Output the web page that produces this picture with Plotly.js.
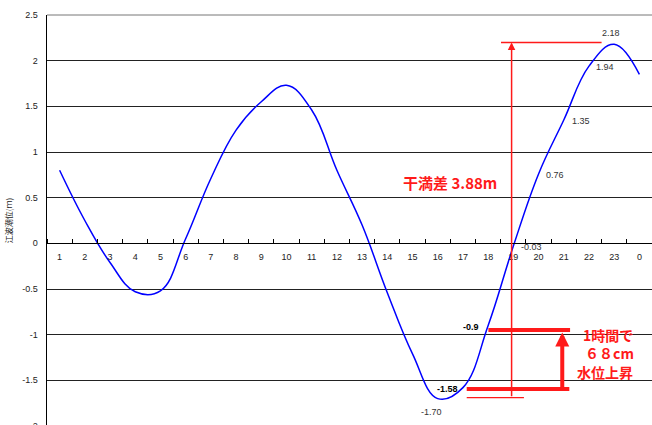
<!DOCTYPE html>
<html>
<head>
<meta charset="utf-8">
<script src="https://cdn.plot.ly/plotly-3.0.1.min.js"></script>
<style>
html, body { margin:0; padding:0; overflow:hidden; background:#fff; }
#chart { width:652px; height:445px; }
</style>
</head>
<body>
<div id="chart"></div>
<script>
// hour-of-day labels (category axis) and tide level (m)
const hourLabels = ["1","2","3","4","5","6","7","8","9","10","11","12","13","14","15","16","17","18","19","20","21","22","23","0"];
const tideLevel  = [0.80, 0.25, -0.21, -0.53, -0.52, 0.05, 0.71, 1.24, 1.55, 1.73, 1.46, 0.80,
                    0.20, -0.54, -1.21, -1.70, -1.58, -0.90, -0.03, 0.76, 1.35, 1.94, 2.18, 1.85];
// indices of the labelled points and their label texts
const labelIdx   = [15, 16, 17, 18, 19, 20, 21, 22];
const labelText  = ["-1.70", "<b>-1.58</b>", "<b>-0.9</b>", "-0.03", "0.76", "1.35", "1.94", "2.18"];
const yTickVals   = [-2, -1.5, -1, -0.5, 0, 0.5, 1, 1.5, 2, 2.5];
const yTickLabels = ["-2","-1.5","-1","-0.5","0","0.5","1","1.5","2","2.5"];

// label placement styles (anchor / pixel offsets)
const labelStyle = [
  { xanchor: 'center', xshift: -6, yshift: -13 },
  { xanchor: 'right',  xshift: -3, yshift: -1 },
  { xanchor: 'right',  xshift: -7, yshift: -1 },
  { xanchor: 'left',   xshift: 6,  yshift: -1 },
  { xanchor: 'left',   xshift: 5,  yshift: -1 },
  { xanchor: 'left',   xshift: 6,  yshift: -1 },
  { xanchor: 'left',   xshift: 5,  yshift: -1 },
  { xanchor: 'center', xshift: -3, yshift: 11 }
];

const xPos = hourLabels.map((_, i) => i + 1);
const hi = Math.max(...tideLevel), lo = Math.min(...tideLevel);
const range = (hi - lo).toFixed(2);
const riseCm = Math.round((tideLevel[17] - tideLevel[16]) * 100);
const toFW = s => String(s).replace(/[0-9]/g, d => String.fromCharCode(d.charCodeAt(0) + 0xFEE0));

const RED = '#ff1a1a';
const trace = {
  x: xPos, y: tideLevel, type: 'scatter', mode: 'lines',
  line: { color: '#0000ff', width: 1.5, shape: 'spline', smoothing: 1.15 },
  hoverinfo: 'skip'
};

const dataLabels = labelIdx.map((idx, k) => Object.assign({
  x: xPos[idx], y: tideLevel[idx], xref: 'x', yref: 'y', showarrow: false,
  text: labelText[k], yanchor: 'middle',
  font: { family: 'Liberation Sans, Arial, sans-serif', size: 9,
          color: labelText[k].indexOf('<b>') >= 0 ? '#000' : '#333' }
}, labelStyle[k]));

const redFont = { family: 'Noto Sans CJK JP, sans-serif', size: 14, color: RED };
const riseLines = ['1時間で', toFW(riseCm) + 'cm', '水位上昇'];
const riseX = [22.76, 22.8, 22.64];
const riseY = [-1.004, -1.206, -1.409];

const layout = {
  width: 652, height: 445,
  margin: { l: 47, r: 0, t: 15, b: 19 },
  paper_bgcolor: '#fff', plot_bgcolor: '#fff',
  showlegend: false,
  font: { family: 'Liberation Sans, Arial, sans-serif', size: 9, color: '#222' },
  xaxis: {
    range: [0.5, 24.5], anchor: 'free', position: 2 / 4.5,
    tickmode: 'array', tickvals: xPos, ticktext: hourLabels,
    ticks: '', showgrid: false, zeroline: false,
    showline: true, linecolor: '#000', linewidth: 1,
    ticklabelstandoff: 5,
    minor: { tickmode: 'linear', tick0: 0.5, dtick: 1, ticks: 'inside', ticklen: 4, tickcolor: '#000', tickwidth: 1, showgrid: false },
    tickfont: { size: 9, color: '#222' }
  },
  yaxis: {
    range: [-2, 2.5], tickmode: 'array', tickvals: yTickVals, ticktext: yTickLabels,
    showgrid: true, gridcolor: '#222', gridwidth: 1,
    zeroline: true, zerolinecolor: '#000', zerolinewidth: 1,
    showline: true, linecolor: '#000', linewidth: 1.5,
    ticks: '', ticklabelstandoff: 6,
    tickfont: { size: 9, color: '#222' },
    title: { text: '江波潮位(ｍ)', standoff: 8,
             font: { family: 'Noto Sans CJK JP, sans-serif', size: 8, color: '#222' } }
  },
  shapes: [
    // top border of plot area
    { type: 'line', xref: 'paper', yref: 'paper', x0: 0, x1: 1, y0: 1, y1: 1, line: { color: '#777', width: 1 } },
    // top reference line at high water
    { type: 'line', xref: 'x', yref: 'y', x0: 18.51, x1: 22.5, y0: 2.2, y1: 2.2, line: { color: RED, width: 1.5 } },
    // bottom reference line at low water
    { type: 'line', xref: 'x', yref: 'y', x0: 17.15, x1: 19.42, y0: -1.69, y1: -1.69, line: { color: RED, width: 1.2 } },
    // thick bars
    { type: 'line', xref: 'x', yref: 'y', x0: 18.01, x1: 21.25, y0: -0.95, y1: -0.95, line: { color: RED, width: 4 } },
    { type: 'line', xref: 'x', yref: 'y', x0: 17.15, x1: 21.22, y0: -1.595, y1: -1.595, line: { color: RED, width: 4 } }
  ],
  annotations: dataLabels.concat([
    { x: 18.93, y: 2.2, ax: 18.93, ay: -1.69, xref: 'x', yref: 'y', axref: 'x', ayref: 'y',
      text: '', showarrow: true, arrowhead: 2, arrowsize: 1, arrowwidth: 1.5, arrowcolor: RED },
    { x: 20.94, y: -0.975, ax: 20.94, ay: -1.595, xref: 'x', yref: 'y', axref: 'x', ayref: 'y',
      text: '', showarrow: true, arrowhead: 2, arrowsize: 0.7, arrowwidth: 4, arrowcolor: RED },
    { x: 16.49, y: 0.67, xref: 'x', yref: 'y', showarrow: false,
      text: '<b>干満差 ' + range + 'm</b>',
      font: { family: 'Noto Sans CJK JP, sans-serif', size: 15, color: RED } }
  ]).concat(riseLines.map((t, i) => ({
      x: riseX[i], y: riseY[i], xref: 'x', yref: 'y', showarrow: false,
      text: '<b>' + t + '</b>', font: redFont
  })))
};

Plotly.newPlot('chart', [trace], layout, { staticPlot: true, displayModeBar: false });
</script>
</body>
</html>
